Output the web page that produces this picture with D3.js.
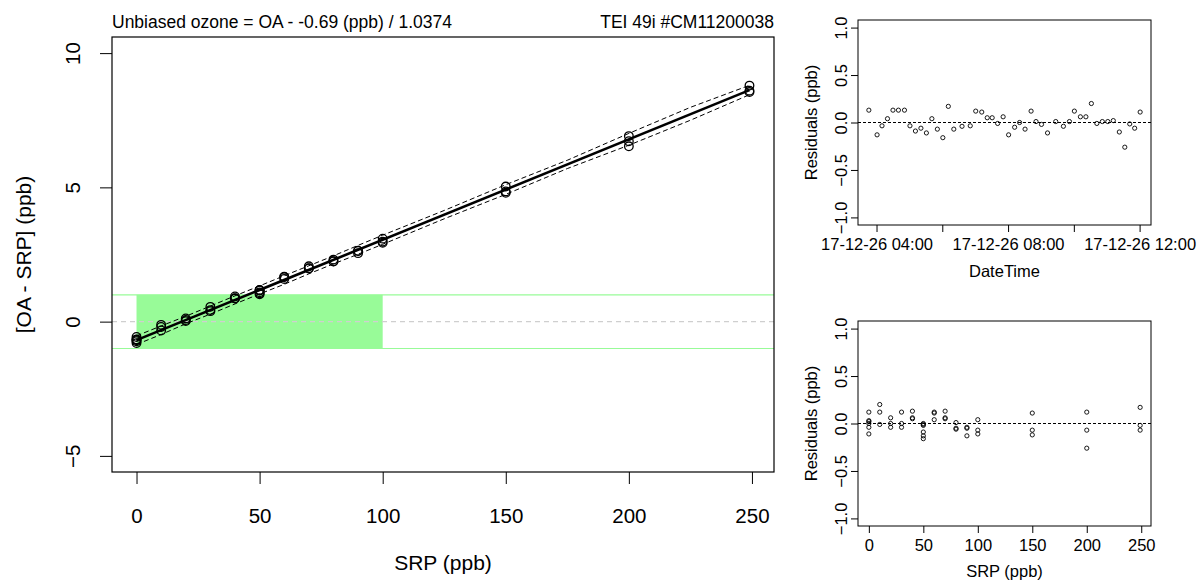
<!DOCTYPE html>
<html>
<head>
<meta charset="utf-8">
<title>Ozone transfer standard check</title>
<script src="https://d3js.org/d3.v7.min.js"></script>
<style>
  body { margin: 0; background: #fff; }
  svg { font-family: "Liberation Sans", Arial, Helvetica, sans-serif; display: block; }
</style>
</head>
<body>
<div id="chart"></div>
<script>
// SRP level of each measurement (ppb)
const srp = [0, 0, 0, 0, 0, 0, 10, 10, 10, 20, 20, 20, 30, 30, 30, 40, 40, 40,
  50, 50, 50, 50, 50, 50, 60, 60, 60, 70, 70, 70, 80, 80, 80, 90, 90, 90,
  100, 100, 100, 150, 150, 150, 200, 200, 200, 249, 249, 249];
// OA - SRP (ppb), same order
const oaMinusSrp = [-0.57, -0.66, -0.67, -0.69, -0.73, -0.80, -0.12, -0.20, -0.33,
  0.12, 0.06, 0.02, 0.55, 0.43, 0.39, 0.94, 0.87, 0.86,
  1.18, 1.17, 1.16, 1.09, 1.05, 1.02, 1.67, 1.66, 1.59, 2.06, 1.99, 1.98,
  2.31, 2.25, 2.24, 2.64, 2.63, 2.55, 3.09, 2.98, 2.94,
  5.03, 4.85, 4.80, 6.91, 6.72, 6.53, 8.79, 8.60, 8.55];
// residuals vs SRP (ppb), same order
const srpResid = [0.12, 0.03, 0.02, 0.00, -0.04, -0.11, 0.20, 0.12, -0.01,
  0.06, 0.00, -0.04, 0.12, 0.00, -0.04, 0.13, 0.06, 0.05,
  0.00, -0.01, -0.02, -0.09, -0.13, -0.16, 0.12, 0.11, 0.04, 0.13, 0.06, 0.05,
  0.01, -0.05, -0.06, -0.04, -0.05, -0.13, 0.04, -0.07, -0.11,
  0.11, -0.07, -0.12, 0.12, -0.07, -0.26, 0.17, -0.02, -0.07];

// residuals in time order (2017-12-26)
const times = ["03:46", "04:01", "04:10", "04:20", "04:30", "04:40", "04:51", "05:01",
  "05:11", "05:21", "05:31", "05:41", "05:51", "06:01", "06:11", "06:21",
  "06:36", "06:51", "07:01", "07:12", "07:22", "07:31", "07:41", "07:51",
  "08:01", "08:12", "08:21", "08:31", "08:42", "08:51", "09:01", "09:12",
  "09:27", "09:41", "09:52", "10:01", "10:12", "10:22", "10:32", "10:42",
  "10:52", "11:02", "11:12", "11:23", "11:33", "11:42", "11:51", "12:01"];
const timeResid = [0.13, -0.13, -0.035, 0.04, 0.13, 0.13, 0.13, -0.035,
  -0.09, -0.06, -0.11, 0.04, -0.07, -0.16, 0.17, -0.07,
  -0.04, -0.035, 0.12, 0.11, 0.05, 0.05, -0.01, 0.06,
  -0.13, -0.05, 0.00, -0.07, 0.12, 0.01, -0.02, -0.11,
  0.01, -0.04, 0.01, 0.12, 0.06, 0.06, 0.20, -0.01,
  0.01, 0.01, 0.02, -0.10, -0.26, -0.015, -0.06, 0.11];

// fitted line and dashed band
const fitX = [0, 249];
const fitY = [-0.69, 8.62];
const bandX = [0, 10, 20, 30, 40, 50, 60, 70, 80, 90, 100, 125, 150, 175, 200, 225, 249];
const bandUpper = [-0.53, -0.16, 0.20, 0.58, 0.96, 1.33, 1.71, 2.08, 2.45, 2.84, 3.22, 4.14, 5.10, 6.01, 7.01, 7.98, 8.80];
const bandLower = [-0.85, -0.48, -0.08, 0.28, 0.66, 1.03, 1.39, 1.78, 2.15, 2.51, 2.88, 3.83, 4.74, 5.70, 6.57, 7.50, 8.45];

const mainXTicks = [0, 50, 100, 150, 200, 250];
const mainYTicks = [-5, 0, 5, 10];
const residTicks = [-1, -0.5, 0, 0.5, 1];
const timeTicks = ["04:00", "06:00", "08:00", "10:00", "12:00"];
const timeLabelled = ["04:00", "08:00", "12:00"];

const titleLeft = "Unbiased ozone = OA - -0.69 (ppb) / 1.0374";
const titleRight = "TEI 49i #CM11200038";

const width = 1197, height = 581;
const svg = d3.select("#chart").append("svg")
  .attr("width", width).attr("height", height);
svg.append("rect").attr("width", width).attr("height", height).attr("fill", "#fff");

const parseT = d3.timeParse("%Y-%m-%d %H:%M");
const toDate = s => parseT("2017-12-26 " + s);

// pad a data range by 4% on each side, like R does
function padded(lo, hi) {
  const d = (hi - lo) * 0.04;
  return [lo - d, hi + d];
}

// rotate y tick labels so they read bottom to top
function styleYAxis(g, fontSize, offset) {
  g.select(".domain").remove();
  g.selectAll(".tick line").attr("stroke", "#000");
  g.selectAll(".tick text")
    .attr("x", null).attr("dy", null)
    .attr("transform", `translate(${offset},0) rotate(-90)`)
    .attr("text-anchor", "middle")
    .attr("fill", "#000")
    .style("font-size", fontSize + "px");
}
function styleXAxis(g, fontSize, baseline) {
  g.select(".domain").remove();
  g.selectAll(".tick line").attr("stroke", "#000");
  g.selectAll(".tick text")
    .attr("y", baseline).attr("dy", null)
    .attr("fill", "#000")
    .style("font-size", fontSize + "px");
}

// ---------- main panel ----------
const m = { left: 112, right: 774, top: 37, bottom: 472 };
const x = d3.scaleLinear().domain(padded(0, 249)).range([m.left, m.right]);
const y = d3.scaleLinear().domain(padded(-5, 10)).range([m.bottom, m.top]);

const main = svg.append("g");
const clip = svg.append("clipPath").attr("id", "clipMain")
  .append("rect").attr("x", m.left).attr("y", m.top)
  .attr("width", m.right - m.left).attr("height", m.bottom - m.top);

const inner = main.append("g").attr("clip-path", "url(#clipMain)");

inner.append("rect")
  .attr("x", x(0)).attr("y", y(1))
  .attr("width", x(100) - x(0)).attr("height", y(-1) - y(1))
  .attr("fill", "palegreen");

[-1, 1].forEach(v => {
  inner.append("line")
    .attr("x1", m.left).attr("x2", m.right)
    .attr("y1", y(v)).attr("y2", y(v))
    .attr("stroke", "palegreen").attr("stroke-width", 1.2);
});
inner.append("line")
  .attr("x1", m.left).attr("x2", m.right)
  .attr("y1", y(0)).attr("y2", y(0))
  .attr("stroke", "#cfcfcf").attr("stroke-width", 1.2)
  .attr("stroke-dasharray", "5,4");

const pts = srp.map((s, i) => ({ x: s, y: oaMinusSrp[i] }));
inner.selectAll("circle.pt").data(pts).enter().append("circle")
  .attr("class", "pt")
  .attr("cx", d => x(d.x)).attr("cy", d => y(d.y))
  .attr("r", 4.3)
  .attr("fill", "none").attr("stroke", "#000").attr("stroke-width", 1.3);

const line = d3.line().x(d => x(d[0])).y(d => y(d[1]));
inner.append("path")
  .attr("d", line(fitX.map((v, i) => [v, fitY[i]])))
  .attr("fill", "none").attr("stroke", "#000").attr("stroke-width", 2.6);
[bandUpper, bandLower].forEach(b => {
  inner.append("path")
    .attr("d", line(bandX.map((v, i) => [v, b[i]])))
    .attr("fill", "none").attr("stroke", "#000").attr("stroke-width", 1)
    .attr("stroke-dasharray", "5,3");
});

main.append("rect")
  .attr("x", m.left).attr("y", m.top)
  .attr("width", m.right - m.left).attr("height", m.bottom - m.top)
  .attr("fill", "none").attr("stroke", "#000").attr("stroke-width", 1.2);

main.append("g").attr("transform", `translate(0,${m.bottom})`)
  .call(d3.axisBottom(x).tickValues(mainXTicks).tickSize(12).tickFormat(d3.format("d")))
  .call(g => styleXAxis(g, 20.5, 51));
main.append("g").attr("transform", `translate(${m.left},0)`)
  .call(d3.axisLeft(y).tickValues(mainYTicks).tickSize(12).tickFormat(d3.format("d")))
  .call(g => styleYAxis(g, 20.5, -32));

main.append("text")
  .attr("x", (m.left + m.right) / 2).attr("y", 570)
  .attr("text-anchor", "middle").style("font-size", "21px")
  .text("SRP (ppb)");
main.append("text")
  .attr("transform", `translate(31,${(m.top + m.bottom) / 2}) rotate(-90)`)
  .attr("text-anchor", "middle").style("font-size", "21px")
  .text("[OA - SRP] (ppb)");
main.append("text")
  .attr("x", m.left).attr("y", 28)
  .style("font-size", "17.5px").text(titleLeft);
main.append("text")
  .attr("x", m.right).attr("y", 28).attr("text-anchor", "end")
  .style("font-size", "17.5px").text(titleRight);

// ---------- residual panels ----------
function residPanel(box, xScale, xs, ys, ticks, tickFmt, labelBase, xTitle, titleBase) {
  const g = svg.append("g");
  const ry = d3.scaleLinear().domain(padded(-1, 1)).range([box.bottom, box.top]);

  g.append("line")
    .attr("x1", box.left).attr("x2", box.right)
    .attr("y1", ry(0)).attr("y2", ry(0))
    .attr("stroke", "#000").attr("stroke-width", 1)
    .attr("stroke-dasharray", "3,2");

  g.selectAll("circle").data(xs).enter().append("circle")
    .attr("cx", d => xScale(d)).attr("cy", (d, i) => ry(ys[i]))
    .attr("r", 2.1)
    .attr("fill", "none").attr("stroke", "#000").attr("stroke-width", 0.9);

  g.append("rect")
    .attr("x", box.left).attr("y", box.top)
    .attr("width", box.right - box.left).attr("height", box.bottom - box.top)
    .attr("fill", "none").attr("stroke", "#000").attr("stroke-width", 1);

  g.append("g").attr("transform", `translate(0,${box.bottom})`)
    .call(d3.axisBottom(xScale).tickValues(ticks).tickSize(7).tickFormat(tickFmt))
    .call(a => styleXAxis(a, 16.5, labelBase));
  g.append("g").attr("transform", `translate(${box.left},0)`)
    .call(d3.axisLeft(ry).tickValues(residTicks).tickSize(7).tickFormat(d3.format(".1f")))
    .call(a => styleYAxis(a, 16.5, -11));

  g.append("text")
    .attr("x", (box.left + box.right) / 2).attr("y", titleBase)
    .attr("text-anchor", "middle").style("font-size", "16.5px")
    .text(xTitle);
  g.append("text")
    .attr("transform", `translate(817,${(box.top + box.bottom) / 2}) rotate(-90)`)
    .attr("text-anchor", "middle").style("font-size", "16.5px")
    .text("Residuals (ppb)");
}

const timeDates = times.map(toDate);
const tExt = d3.extent(timeDates);
const tPad = (tExt[1] - tExt[0]) * 0.04;
const boxTop = { left: 858, right: 1151, top: 20, bottom: 225 };
const xt = d3.scaleTime()
  .domain([new Date(+tExt[0] - tPad), new Date(+tExt[1] + tPad)])
  .range([boxTop.left, boxTop.right]);
const fmtT = d3.timeFormat("%y-%m-%d %H:%M");
residPanel(boxTop, xt, timeDates, timeResid, timeTicks.map(toDate),
  d => timeLabelled.includes(d3.timeFormat("%H:%M")(d)) ? fmtT(d) : "",
  25, "DateTime", 277);

const boxBot = { left: 858, right: 1151, top: 321, bottom: 526 };
const xs2 = d3.scaleLinear().domain(padded(0, 249)).range([boxBot.left, boxBot.right]);
residPanel(boxBot, xs2, srp, srpResid, mainXTicks, d3.format("d"), 25, "SRP (ppb)", 577);
</script>
</body>
</html>
